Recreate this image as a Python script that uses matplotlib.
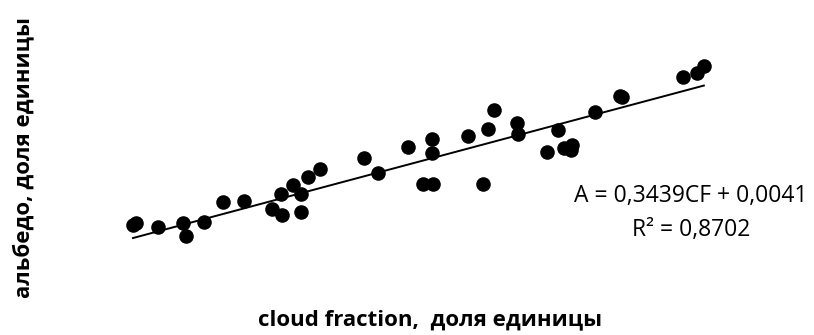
import matplotlib
matplotlib.use("Agg")
import matplotlib.pyplot as plt
import numpy as np

plt.rcParams["font.family"] = ["Open Sans", "DejaVu Sans"]

cloud_fraction = [
    0.150, 0.154, 0.185, 0.220, 0.224, 0.249, 0.276, 0.305, 0.344, 0.358,
    0.357, 0.373, 0.385, 0.385, 0.394, 0.411, 0.473, 0.492, 0.534, 0.568,
    0.568, 0.555, 0.569, 0.618, 0.646, 0.654, 0.686, 0.688, 0.639, 0.728,
    0.743, 0.752, 0.763, 0.762, 0.795, 0.830, 0.833, 0.918, 0.937, 0.947,
]
albedo = [
    0.079, 0.083, 0.075, 0.083, 0.059, 0.084, 0.120, 0.122, 0.108, 0.097,
    0.135, 0.151, 0.135, 0.102, 0.165, 0.180, 0.199, 0.173, 0.219, 0.234,
    0.209, 0.153, 0.153, 0.239, 0.252, 0.286, 0.262, 0.243, 0.153, 0.210,
    0.250, 0.217, 0.223, 0.214, 0.282, 0.311, 0.309, 0.345, 0.352, 0.365,
]
slope = 0.3439
intercept = 0.0041

fig = plt.figure(figsize=(8.14, 3.35), dpi=100)
ax = fig.add_axes([0.1194, 0.197, 0.7919, 0.6642])
ax.set_xlim(0.1, 1.0)
ax.set_ylim(0.0, 0.4)
ax.axis("off")

ax.scatter(cloud_fraction, albedo, s=110, color="black", zorder=3, linewidths=0)
x_fit = np.array([min(cloud_fraction), max(cloud_fraction)])
ax.plot(x_fit, slope * x_fit + intercept, color="black", lw=1.4, zorder=2)

fig.text(0.849, 0.415, "A = 0,3439CF + 0,0041", ha="center", va="center", fontsize=16.5)
fig.text(0.849, 0.313, "R² = 0,8702", ha="center", va="center", fontsize=16.5)

fig.text(0.528, 0.045, "cloud fraction,  доля единицы", ha="center", va="center",
         fontsize=16, fontweight="bold")
fig.text(0.029, 0.53, "альбедо, доля единицы", ha="center", va="center",
         fontsize=16, fontweight="bold", rotation=90)

fig.savefig("out.png", dpi=100)
